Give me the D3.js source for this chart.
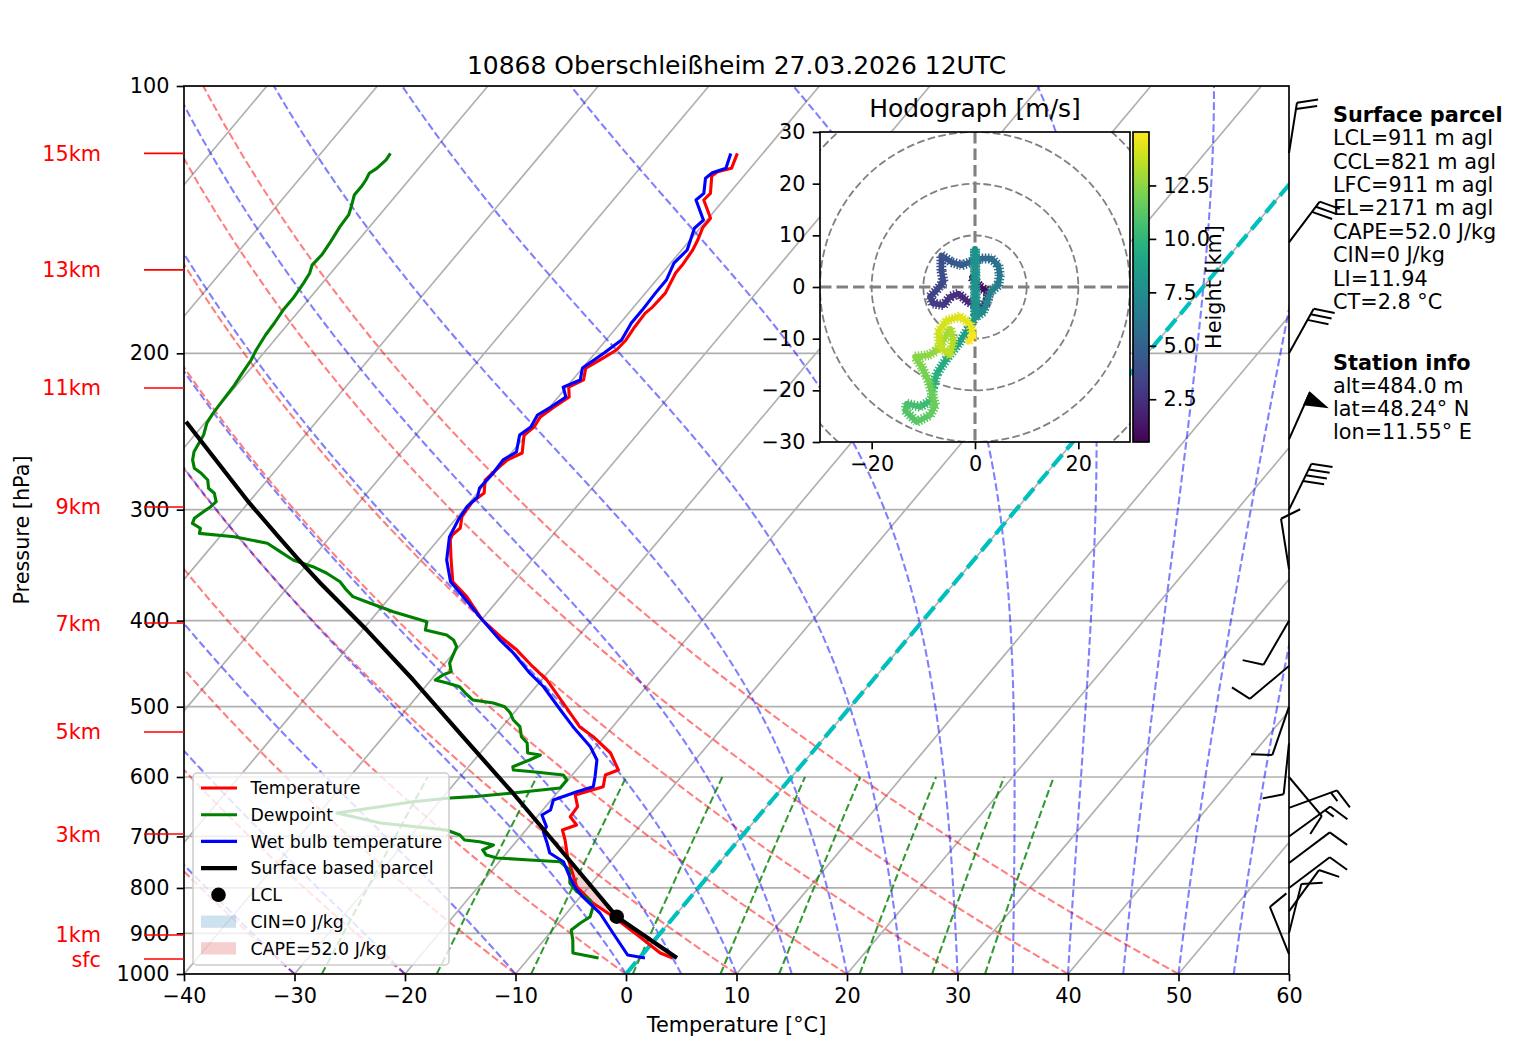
<!DOCTYPE html>
<html>
<head>
<meta charset="utf-8">
<script src="https://cdn.jsdelivr.net/npm/d3@7"></script>
<style>
body { margin: 0; background: #fff; }
text { font-family: "DejaVu Sans", sans-serif; }
</style>
</head>
<body>
<div id="chart"></div>
<script>
// ---- sounding data (hPa, degC) ----
const tempP = [119.1,123.8,124.9,126.3,132.1,134.4,140.9,144.3,149.1,153.0,159.1,162.4,171.1,177.4,180.2,186.8,193.2,198.3,202.5,207.8,214.3,218.3,224.0,229.9,235.9,242.1,247.2,259.0,263.7,270.7,277.8,287.3,294.1,300.2,305.7,314.6,320.4,324.5,341.8,361.6,375.9,399.4,417.0,431.7,450.8,466.6,495.2,526.6,540.5,563.8,589.2,596.9,615.3,628.7,648.0,665.1,679.5,688.4,706.5,737.8,797.4,831.9,861.9,907.8,947.0,959.4];
const tempT = [-52.3,-51.7,-52.7,-52.9,-51.7,-51.8,-49.8,-49.8,-49.3,-49.0,-48.8,-48.8,-48.2,-48.3,-48.5,-48.4,-48.2,-48.3,-48.9,-49.7,-49.0,-49.8,-49.0,-49.6,-50.1,-49.9,-50.2,-49.0,-49.8,-50.1,-50.3,-49.4,-49.8,-49.7,-49.6,-48.9,-49.1,-48.9,-47.3,-45.5,-43.1,-39.9,-37.0,-34.5,-31.8,-29.5,-26.3,-23.0,-21.0,-18.2,-16.2,-17.0,-16.3,-18.2,-17.1,-17.0,-15.8,-16.7,-15.7,-14.2,-11.1,-8.4,-5.5,-1.6,1.5,3.0];

const dewP = [119.1,121.1,123.8,125.4,127.6,129.8,132.7,136.7,139.7,144.0,149.7,155.0,159.1,162.5,166.8,173.4,178.8,185.0,190.7,198.3,203.5,210.6,217.1,225.8,233.7,239.8,247.2,258.1,263.7,269.5,273.0,277.8,283.8,287.5,293.8,297.7,300.2,306.8,310.8,314.8,319.0,321.8,327.3,334.5,341.8,347.8,353.5,361.6,369.4,375.9,380.9,385.8,390.9,396.0,401.1,409.9,411.7,415.2,420.6,428.0,437.3,446.5,456.6,460.6,466.6,470.2,474.8,482.6,491.4,495.2,500.0,508.3,517.6,526.6,540.5,549.4,563.8,566.7,574.1,584.2,589.2,591.8,596.9,604.7,617.4,625.4,631.4,633.6,639.7,648.0,658.7,676.0,688.4,697.4,706.5,709.6,715.7,725.0,734.5,740.2,744.1,747.4,763.6,789.8,807.8,825.4,839.9,861.9,876.1,892.2,915.6,947.0,959.4];
const dewT = [-83.7,-83.6,-83.8,-84.1,-83.9,-83.8,-83.8,-83.2,-82.8,-82.7,-82.4,-82.2,-82.3,-81.9,-81.7,-81.5,-81.5,-81.3,-81.2,-80.9,-80.6,-80.4,-80.2,-80.1,-80.0,-79.8,-79.2,-78.8,-78.3,-77.5,-76.5,-75.4,-74.7,-73.8,-73.0,-73.1,-73.3,-73.7,-73.5,-72.4,-72.1,-68.7,-65.2,-63.4,-61.6,-59.3,-57.6,-55.7,-54.5,-53.4,-51.8,-50.2,-48.6,-46.7,-44.8,-44.3,-43.5,-42.0,-41.0,-40.2,-39.9,-39.6,-38.8,-39.3,-39.6,-38.3,-36.9,-35.9,-34.7,-32.6,-31.3,-30.3,-29.5,-28.4,-27.5,-26.5,-25.7,-24.4,-25.0,-26.0,-25.7,-23.8,-20.8,-20.1,-20.1,-24.0,-27.3,-29.3,-32.4,-35.0,-38.4,-33.7,-27.2,-25.6,-24.8,-23.3,-21.8,-22.4,-21.7,-20.5,-17.4,-14.5,-13.0,-12.0,-10.7,-8.9,-8.1,-7.6,-8.0,-8.3,-7.4,-6.4,-3.7];

const wetP = [119.1,123.8,125.2,127.0,132.1,134.4,141.6,144.6,153.0,158.3,165.4,171.1,178.8,184.9,193.2,199.8,207.8,214.3,218.3,224.0,229.9,234.7,242.1,247.2,258.3,263.7,272.8,283.6,290.3,297.9,308.1,322.0,341.8,361.6,375.9,396.0,420.6,435.0,458.2,474.8,504.3,526.6,554.7,574.1,599.5,615.3,623.3,636.9,653.6,662.1,682.5,691.4,712.0,730.7,747.4,777.0,800.1,818.4,853.7,899.1,951.9,959.4];
const wetT = [-52.9,-52.2,-53.1,-53.3,-52.3,-52.5,-50.3,-50.5,-49.5,-49.7,-49.1,-49.1,-49.0,-49.0,-48.6,-49.2,-50.0,-49.3,-50.3,-49.3,-49.9,-50.5,-50.2,-50.6,-49.6,-50.2,-50.1,-50.2,-49.7,-49.9,-49.7,-49.2,-47.7,-45.7,-43.4,-40.4,-36.8,-34.6,-31.6,-29.3,-26.0,-23.6,-20.5,-18.9,-17.8,-17.2,-18.3,-19.8,-19.3,-19.7,-18.4,-18.3,-17.1,-16.1,-14.2,-12.5,-11.1,-9.8,-7.0,-4.3,-1.3,0.5];

const parcelP = [959.4,861.9,737.8,625.4,540.5,466.6,409.9,362.8,340.0,324.5,294.8,238.8];
const parcelT = [3.4,-5.2,-14.3,-24.0,-32.8,-41.6,-49.6,-57.4,-61.4,-64.2,-69.9,-81.8];
const lclP = 861.9, lclT = -5.2;

const heightLabels = ["15km","13km","11km","9km","7km","5km","3km","1km","sfc"];
const heightP = [119.1,161.1,218.8,297.9,402.5,533.9,695.6,903.8,961.9];

// wind barbs (hPa, deg, kt)
const barbP = [119,150,200,250,300,350,400,450,500,550,600,650,700,750,800,850,900,950];
const barbDir = [9,37,29,24,26,351,210,230,199,186,140,70,54,53,53,36,14,338];
const barbSpd = [20,30,30,50,40,10,10,10,10,10,10,15,15,10,10,10,10,10];

// hodograph (m/s, km)
const hodoU = [-0.6,1.0,2.6,2.4,1.3,-1.3,-3.2,-4.8,-6.1,-8.1,-8.7,-7.4,-6.1,-6.5,-6.5,-4.5,-2.6,-1.0,1.3,3.2,4.5,4.8,4.5,2.9,2.3,1.6,0.2,0.0,0.0,-1.3,-3.2,-5.5,-7.4,-8.1,-8.4,-10.6,-13.2,-13.5,-11.3,-8.7,-7.7,-9.0,-10.3,-11.6,-9.0,-7.4,-6.1,-4.8,-4.2,-4.8,-6.8,-7.1,-5.5,-2.9,-1.0,-0.3,-1.3];
const hodoV = [1.9,0.0,-1.0,-2.9,-3.9,-2.9,-1.3,-1.9,-3.5,-3.2,-1.9,-0.6,1.0,3.2,6.1,4.8,4.2,4.8,5.5,5.5,4.2,2.3,0.3,-1.0,-2.9,-4.8,-5.8,7.4,-5.8,-8.1,-11.0,-13.9,-16.8,-19.4,-21.9,-23.2,-22.6,-23.9,-26.1,-24.8,-22.9,-18.1,-15.5,-13.5,-13.2,-12.3,-10.3,-8.1,-10.3,-13.2,-11.6,-8.7,-6.5,-5.7,-7.1,-9.4,-10.6];
const hodoZ = [0.5,0.8,1.1,1.4,1.7,2.0,2.3,2.6,2.9,3.1,3.3,3.5,3.7,3.9,4.1,4.4,4.7,5.0,5.3,5.6,5.9,6.2,6.5,6.8,7.1,7.4,7.6,7.8,8.0,8.4,8.8,9.2,9.6,9.9,10.2,10.5,10.8,11.0,11.2,11.4,11.6,11.9,12.1,12.3,12.5,12.7,12.9,13.1,13.3,13.5,13.7,13.9,14.1,14.3,14.5,14.7,15.0];

// background line families
const dryT0 = d3.range(-40, 51, 10);
const moistT0 = d3.range(-40, 0, 10).concat(d3.range(0, 61, 5));
const mixRatios = [0.0004, 0.001, 0.002, 0.004, 0.007, 0.01, 0.016, 0.024, 0.032];

const parcelText = ["LCL=911 m agl","CCL=821 m agl","LFC=911 m agl","EL=2171 m agl","CAPE=52.0 J/kg","CIN=0 J/kg","LI=11.94","CT=2.8 °C"];
const stationText = ["alt=484.0 m","lat=48.24° N","lon=11.55° E"];

// ---- layout ----
const W = 1517, H = 1060;
const L = 184, R = 1289, T = 86, B = 974;
const skew = 0.84;
const fs = 20.8;

const svg = d3.select("#chart").append("svg").attr("width", W).attr("height", H);

const x = d3.scaleLinear().domain([-40, 60]).range([L, R]);
const y = d3.scaleLog().domain([1000, 100]).range([B, T]);
const sx = (t, p) => x(t) + skew * (y(1000) - y(p));

const line = d3.line().x(d => sx(d[1], d[0])).y(d => y(d[0]));
const zip = (ps, ts) => ps.map((p, i) => [p, ts[i]]);

svg.append("clipPath").attr("id", "plotclip")
    .append("rect").attr("x", L).attr("y", T).attr("width", R - L).attr("height", B - T);

const plot = svg.append("g").attr("clip-path", "url(#plotclip)");

// grid: isotherms and isobars
d3.range(-160, 61, 10).forEach(t => {
    plot.append("path").datum([[1000, t], [100, t]])
        .attr("d", line).attr("fill", "none").attr("stroke", "#b0b0b0").attr("stroke-width", 1.67);
});
const pTicks = d3.range(100, 1001, 100);
pTicks.forEach(p => {
    plot.append("line").attr("x1", L).attr("x2", R).attr("y1", y(p)).attr("y2", y(p))
        .attr("stroke", "#b0b0b0").attr("stroke-width", 1.67);
});

// dry adiabats
const fullP = d3.range(1000, 99, -10);
dryT0.forEach(t0 => {
    const pts = fullP.map(p => [p, (t0 + 273.15) * Math.pow(p / 1000, 0.2857) - 273.15]);
    plot.append("path").datum(pts).attr("d", line).attr("fill", "none")
        .attr("stroke", "red").attr("stroke-opacity", 0.5).attr("stroke-width", 2.08)
        .attr("stroke-dasharray", "7.7,3.3");
});

// moist adiabats
function lapse(p, tk) {
    const Rd = 287.04749, Lv = 2.50084e6, Cp = 1004.6662, eps = 0.622;
    const es = 6.112 * Math.exp(17.67 * (tk - 273.15) / (tk - 29.65));
    const rs = eps * es / (p - es);
    return (Rd * tk + Lv * rs) / (Cp + Lv * Lv * rs * eps / (Rd * tk * tk)) / p;
}
moistT0.forEach(t0 => {
    let tk = t0 + 273.15, p = 1000;
    const dp = -5, pts = [[1000, t0]];
    while (p > 100) {
        const k1 = lapse(p, tk);
        const k2 = lapse(p + dp / 2, tk + dp / 2 * k1);
        const k3 = lapse(p + dp / 2, tk + dp / 2 * k2);
        const k4 = lapse(p + dp, tk + dp * k3);
        tk += dp / 6 * (k1 + 2 * k2 + 2 * k3 + k4);
        p += dp;
        pts.push([p, tk - 273.15]);
    }
    plot.append("path").datum(pts).attr("d", line).attr("fill", "none")
        .attr("stroke", "blue").attr("stroke-opacity", 0.5).attr("stroke-width", 2.08)
        .attr("stroke-dasharray", "7.7,3.3");
});

// mixing ratio lines
const mixP = d3.range(1000, 599, -10);
mixRatios.forEach(w => {
    const pts = mixP.map(p => {
        const e = p * w / (0.622 + w);
        const lg = Math.log(e / 6.112);
        return [p, 243.5 * lg / (17.67 - lg)];
    });
    plot.append("path").datum(pts).attr("d", line).attr("fill", "none")
        .attr("stroke", "green").attr("stroke-opacity", 0.8).attr("stroke-width", 2.08)
        .attr("stroke-dasharray", "7.7,3.3");
});

// CAPE shading (parcel warmer than environment)
function interp(ps, ts, p) {
    const pairs = zip(ps, ts).sort((a, b) => a[0] - b[0]);
    for (let i = 0; i < pairs.length - 1; i++) {
        const [p0, t0] = pairs[i], [p1, t1] = pairs[i + 1];
        if (p >= p0 && p <= p1) {
            const f = Math.log(p / p0) / Math.log(p1 / p0);
            return t0 + f * (t1 - t0);
        }
    }
    return NaN;
}
const shadeP = tempP.filter(p => p >= 700);
plot.append("path").datum(shadeP)
    .attr("d", d3.area()
        .y(p => y(p))
        .x0(p => sx(interp(tempP, tempT, p), p))
        .x1(p => sx(Math.max(interp(tempP, tempT, p), interp(parcelP, parcelT, p)), p)))
    .attr("fill", "#d62728").attr("fill-opacity", 0.22);

// 0 degC isotherm
plot.append("path").datum([[1000, 0], [100, 0]]).attr("d", line).attr("fill", "none")
    .attr("stroke", "#00bfbf").attr("stroke-width", 4.17).attr("stroke-dasharray", "15.4,6.7");

// profiles
[[tempP, tempT, "red", 3.1], [dewP, dewT, "green", 3.1], [wetP, wetT, "blue", 3.1], [parcelP, parcelT, "black", 4.17]]
    .forEach(([ps, ts, c, w]) => {
        plot.append("path").datum(zip(ps, ts)).attr("d", line).attr("fill", "none")
            .attr("stroke", c).attr("stroke-width", w).attr("stroke-linejoin", "round");
    });

plot.append("circle").attr("cx", sx(lclT, lclP)).attr("cy", y(lclP)).attr("r", 7.3).attr("fill", "black");

// frame and axes
svg.append("rect").attr("x", L).attr("y", T).attr("width", R - L).attr("height", B - T)
    .attr("fill", "none").attr("stroke", "black").attr("stroke-width", 1.67);

function styleAxis(g) {
    g.select(".domain").remove();
    g.selectAll(".tick line").attr("stroke-width", 1.67);
    g.selectAll("text").attr("font-size", fs).attr("font-family", "DejaVu Sans").attr("fill", "black");
}
svg.append("g").attr("transform", `translate(${L},0)`)
    .call(d3.axisLeft(y).tickValues(pTicks).tickFormat(d3.format("d")).tickSize(7.3).tickPadding(7.3))
    .call(styleAxis);
svg.append("g").attr("transform", `translate(0,${B})`)
    .call(d3.axisBottom(x).tickValues(d3.range(-40, 61, 10)).tickFormat(d3.format("d")).tickSize(7.3).tickPadding(7.3))
    .call(styleAxis);

svg.append("text").attr("x", (L + R) / 2).attr("y", 1032).attr("text-anchor", "middle")
    .attr("font-size", fs).text("Temperature [°C]");
svg.append("text").attr("transform", `translate(29,${(T + B) / 2}) rotate(-90)`).attr("text-anchor", "middle")
    .attr("font-size", fs).text("Pressure [hPa]");
svg.append("text").attr("x", (L + R) / 2).attr("y", 74).attr("text-anchor", "middle")
    .attr("font-size", 25).text("10868 Oberschleißheim 27.03.2026 12UTC");

// height labels
heightLabels.forEach((lab, i) => {
    const yy = y(heightP[i]);
    svg.append("line").attr("x1", 144).attr("x2", L).attr("y1", yy).attr("y2", yy)
        .attr("stroke", "red").attr("stroke-width", 1.67);
    svg.append("text").attr("x", 101).attr("y", yy + 7.5).attr("text-anchor", "end")
        .attr("font-size", fs).attr("fill", "red").text(lab);
});

// legend
const capeColor = "rgba(214,39,40,0.22)", cinColor = "rgba(31,119,180,0.22)";
const legendItems = [
    {label: "Temperature", type: "line", color: "red", w: 3.1},
    {label: "Dewpoint", type: "line", color: "green", w: 3.1},
    {label: "Wet bulb temperature", type: "line", color: "blue", w: 3.1},
    {label: "Surface based parcel", type: "line", color: "black", w: 4.17},
    {label: "LCL", type: "dot"},
    {label: "CIN=0 J/kg", type: "patch", color: cinColor},
    {label: "CAPE=52.0 J/kg", type: "patch", color: capeColor}
];
const leg = svg.append("g");
leg.append("rect").attr("x", 193).attr("y", 773).attr("width", 256).attr("height", 192).attr("rx", 4)
    .attr("fill", "white").attr("fill-opacity", 0.8).attr("stroke", "#cccccc").attr("stroke-width", 1.5);
legendItems.forEach((it, i) => {
    const cy = 788 + i * 26.7;
    if (it.type === "line") {
        leg.append("line").attr("x1", 201).attr("x2", 237).attr("y1", cy).attr("y2", cy)
            .attr("stroke", it.color).attr("stroke-width", it.w);
    } else if (it.type === "dot") {
        leg.append("circle").attr("cx", 218.5).attr("cy", cy).attr("r", 7.3).attr("fill", "black");
    } else {
        leg.append("rect").attr("x", 201).attr("y", cy - 6).attr("width", 35).attr("height", 12.3).attr("fill", it.color);
    }
    leg.append("text").attr("x", 250.5).attr("y", cy + 6.3).attr("font-size", 17.36).text(it.label);
});

// wind barbs on right spine
const bLen = 51, bSpace = 6.38, bH = 20.4, bW = 12.76;
const barbs = svg.append("g").attr("stroke", "black").attr("stroke-width", 2).attr("fill", "none");
barbP.forEach((p, i) => {
    const bx = R, by = y(p);
    const a = barbDir[i] * Math.PI / 180;
    const s = [Math.sin(a), -Math.cos(a)], n = [Math.cos(a), Math.sin(a)];
    const P = (d, h) => [bx + s[0] * d + n[0] * h, by + s[1] * d + n[1] * h];
    let rem = Math.round(barbSpd[i] / 5) * 5;
    const flags = Math.floor(rem / 50); rem -= flags * 50;
    const full = Math.floor(rem / 10); rem -= full * 10;
    const half = rem >= 5;
    barbs.append("path").attr("d", d3.line()([P(0, 0), P(bLen, 0)]));
    let off = bLen;
    for (let k = 0; k < flags; k++) {
        if (off !== bLen) off += bSpace / 2;
        barbs.append("path").attr("d", d3.line()([P(off, 0), P(off - bW / 2, bH), P(off - bW, 0)]) + "Z")
            .attr("fill", "black");
        off -= bW + bSpace;
    }
    for (let k = 0; k < full; k++) {
        barbs.append("path").attr("d", d3.line()([P(off, 0), P(off + bW / 2, bH)]));
        off -= bSpace;
    }
    if (half) {
        if (off === bLen) off -= 1.5 * bSpace;
        barbs.append("path").attr("d", d3.line()([P(off, 0), P(off + bW / 4, bH / 2)]));
    }
});

// hodograph inset
const hL = 820, hR = 1130, hT = 132, hB = 442;
const hx = d3.scaleLinear().domain([-30, 30]).range([hL, hR]);
const hy = d3.scaleLinear().domain([-30, 30]).range([hB, hT]);
const hodo = svg.append("g");
hodo.append("rect").attr("x", hL).attr("y", hT).attr("width", hR - hL).attr("height", hB - hT).attr("fill", "white");
svg.append("clipPath").attr("id", "hodoclip")
    .append("rect").attr("x", hL).attr("y", hT).attr("width", hR - hL).attr("height", hB - hT);
const hin = hodo.append("g").attr("clip-path", "url(#hodoclip)");
[10, 20, 30, 40].forEach(r => {
    hin.append("circle").attr("cx", hx(0)).attr("cy", hy(0)).attr("r", hx(r) - hx(0))
        .attr("fill", "none").attr("stroke", "gray").attr("stroke-width", 1.8).attr("stroke-dasharray", "7.7,3.3");
});
hin.append("line").attr("x1", hL).attr("x2", hR).attr("y1", hy(0)).attr("y2", hy(0))
    .attr("stroke", "gray").attr("stroke-width", 3.1).attr("stroke-dasharray", "11.5,5");
hin.append("line").attr("x1", hx(0)).attr("x2", hx(0)).attr("y1", hT).attr("y2", hB)
    .attr("stroke", "gray").attr("stroke-width", 3.1).attr("stroke-dasharray", "11.5,5");

const zExt = d3.extent(hodoZ);
const zColor = d3.scaleSequential(d3.interpolateViridis).domain(zExt);
for (let i = 0; i < hodoU.length - 1; i++) {
    const seg = [[hx(hodoU[i]), hy(hodoV[i])], [hx(hodoU[i + 1]), hy(hodoV[i + 1])]];
    const c = zColor((hodoZ[i] + hodoZ[i + 1]) / 2);
    hin.append("path").attr("d", d3.line()(seg)).attr("stroke", c).attr("stroke-width", 5.5)
        .attr("stroke-linecap", "round").attr("fill", "none");
    hin.append("path").attr("d", d3.line()(seg)).attr("stroke", c).attr("stroke-width", 10)
        .attr("stroke-dasharray", "1.5,1.6").attr("fill", "none");
}
hodo.append("rect").attr("x", hL).attr("y", hT).attr("width", hR - hL).attr("height", hB - hT)
    .attr("fill", "none").attr("stroke", "black").attr("stroke-width", 1.67);
hodo.append("g").attr("transform", `translate(${hL},0)`)
    .call(d3.axisLeft(hy).tickValues(d3.range(-30, 31, 10)).tickFormat(d3.format("d")).tickSize(7.3).tickPadding(7.3))
    .call(styleAxis);
hodo.append("g").attr("transform", `translate(0,${hB})`)
    .call(d3.axisBottom(hx).tickValues([-20, 0, 20]).tickFormat(d3.format("d")).tickSize(7.3).tickPadding(7.3))
    .call(styleAxis);
hodo.append("text").attr("x", (hL + hR) / 2).attr("y", 117).attr("text-anchor", "middle")
    .attr("font-size", 25).text("Hodograph [m/s]");

// colorbar
const cbL = 1133, cbR = 1149;
const cz = d3.scaleLinear().domain(zExt).range([hB, hT]);
const grad = svg.append("defs").append("linearGradient").attr("id", "viridis")
    .attr("x1", 0).attr("y1", 1).attr("x2", 0).attr("y2", 0);
d3.range(0, 1.001, 0.05).forEach(t => {
    grad.append("stop").attr("offset", t).attr("stop-color", d3.interpolateViridis(t));
});
hodo.append("rect").attr("x", cbL).attr("y", hT).attr("width", cbR - cbL).attr("height", hB - hT)
    .attr("fill", "url(#viridis)").attr("stroke", "black").attr("stroke-width", 1.67);
hodo.append("g").attr("transform", `translate(${cbR},0)`)
    .call(d3.axisRight(cz).tickValues([2.5, 5, 7.5, 10, 12.5]).tickFormat(d3.format(".1f")).tickSize(7.3).tickPadding(7.3))
    .call(styleAxis);
hodo.append("text").attr("transform", `translate(1221,${(hT + hB) / 2}) rotate(-90)`).attr("text-anchor", "middle")
    .attr("font-size", fs).text("Height [km]");

// text block on the right
const tx = 1333;
svg.append("text").attr("x", tx).attr("y", 114.3 + 7.5).attr("font-size", fs).attr("font-weight", "bold").text("Surface parcel");
parcelText.forEach((t, i) => {
    svg.append("text").attr("x", tx).attr("y", 114.3 + (i + 1) * 23.4 + 7.5).attr("font-size", fs).text(t);
});
svg.append("text").attr("x", tx).attr("y", 362 + 7.5).attr("font-size", fs).attr("font-weight", "bold").text("Station info");
stationText.forEach((t, i) => {
    svg.append("text").attr("x", tx).attr("y", 362 + (i + 1) * 23.2 + 7.5).attr("font-size", fs).text(t);
});
</script>
</body>
</html>
